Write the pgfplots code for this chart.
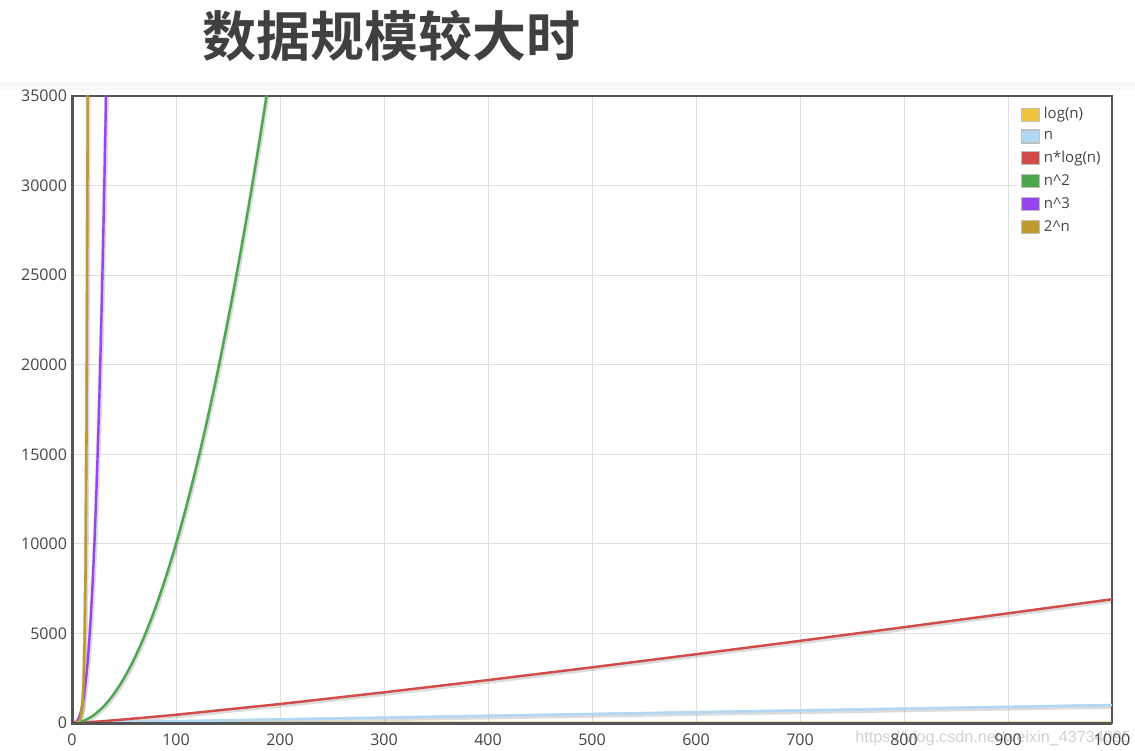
\documentclass[border=0pt]{standalone}
\usepackage{pgfplots}
\pgfplotsset{compat=1.18}
\usepackage{pgfplotstable}
\usepackage{fontspec}
\setmainfont{Open Sans}
\newfontfamily\cjk{Noto Sans CJK SC}[BoldFont={Noto Sans CJK SC Bold}]
\newfontfamily\wm{Liberation Sans}

\definecolor{clog}{HTML}{EFC33E}
\definecolor{cn}{HTML}{B0D8F5}
\definecolor{cnlog}{HTML}{D24B48}
\definecolor{csq}{HTML}{4AA84B}
\definecolor{ccube}{HTML}{9944EE}
\definecolor{cexp}{HTML}{BE9A2F}
\definecolor{axcol}{HTML}{555555}
\definecolor{txt}{HTML}{444444}

% log(n), natural log
\pgfplotstableread{
n y
1 0
10 2.30
100 4.61
500 6.21
1000 6.91
}\tlog
\pgfplotstableread{
n y
0 0
1000 1000
}\tn
\pgfplotstableread{
n y
1 0
10 23.0
25 80.5
50 195.6
100 460.5
200 1059.7
300 1711.1
400 2396.6
500 3107.3
600 3838.2
700 4585.9
800 5347.6
900 6122.2
1000 6907.8
}\tnlog
\pgfplotstableread{
n y
0 0
10 100
20 400
30 900
40 1600
50 2500
60 3600
70 4900
80 6400
90 8100
100 10000
110 12100
120 14400
130 16900
140 19600
150 22500
160 25600
170 28900
180 32400
190 36100
}\tsq
\pgfplotstableread{
n y
0 0
2 8
4 64
6 216
8 512
10 1000
12 1728
14 2744
16 4096
18 5832
20 8000
22 10648
24 13824
26 17576
28 21952
30 27000
32 32768
34 39304
}\tcube
\pgfplotstableread{
n y
0 1
1 2
2 4
3 8
4 16
5 32
6 64
7 128
8 256
9 512
10 1024
11 2048
12 4096
13 8192
14 16384
15 32768
16 65536
}\texp

\begin{document}
\begin{tikzpicture}
\useasboundingbox (0pt,0pt) rectangle (567.5pt,375pt);
\fill[black!3] (0pt,330pt) rectangle (567.5pt,334pt);
\node[font=\cjk\bfseries\fontsize{27}{30}\selectfont, text=black!75] at (195.5pt,357pt) {数据规模较大时};
\node[anchor=base west, font=\wm\fontsize{8.1}{9}\selectfont, text=black!18, inner sep=0pt] at (427.5pt,4pt) {https://blog.csdn.net/weixin\_43734095};
\begin{axis}[
  at={(36pt,13.5pt)}, anchor=south west,
  scale only axis, width=520pt, height=313.5pt,
  xmin=0, xmax=1000, ymin=0, ymax=35000,
  xtick={0,100,...,1000}, ytick={0,5000,...,35000},
  scaled ticks=false,
  /pgf/number format/assume math mode=true,
  /pgf/number format/set thousands separator={},
  tick label style={font=\fontsize{8}{9}\selectfont, text=txt},
  yticklabel style={xshift=1pt},
  xticklabel style={yshift=-2pt},
  major tick length=0pt,
  grid=major,
  major grid style={draw=black!13, line width=0.5pt},
  axis line style={draw=axcol, line width=1pt},
  clip mode=individual,
  legend style={at={(0.908,0.995)}, anchor=north west, draw=none, fill=white,
    font=\fontsize{7.5}{9}\selectfont, text=txt, row sep=0.5pt, inner sep=2pt},
  legend cell align=left,
  legend image code/.code={\filldraw[#1, draw=black!25, line width=0.6pt] (0pt,-3.2pt) rectangle (9pt,3.3pt);},
  shadow/.style={draw=black, opacity=0.14, line width=2.4pt, yshift=-0.6pt, xshift=0.3pt, forget plot},
  every axis plot post/.append style={line join=round},
]
\addplot[shadow] table {\tlog};
\addplot[shadow] table {\tn};
\addplot[shadow] table {\tnlog};
\addplot[shadow, smooth] table {\tsq};
\addplot[shadow, smooth] table {\tcube};
\addplot[shadow] table {\texp};

\addplot[color=clog, line width=1.3pt] table {\tlog};
\addlegendentry{log(n)}
\addplot[color=cn, line width=1.3pt] table {\tn};
\addlegendentry{n}
\addplot[color=cnlog, line width=1.2pt] table {\tnlog};
\addlegendentry{n*log(n)}
\addplot[color=csq, line width=1.2pt, smooth] table {\tsq};
\addlegendentry{n\^{}2}
\addplot[color=ccube, line width=1.2pt, smooth] table {\tcube};
\addlegendentry{n\^{}3}
\addplot[color=cexp, line width=1.3pt] table {\texp};
\addlegendentry{2\^{}n}
\end{axis}
\draw[axcol, line width=1.5pt] (36pt,327pt) -- (36pt,13.5pt) -- (556pt,13.5pt);
\end{tikzpicture}
\end{document}
